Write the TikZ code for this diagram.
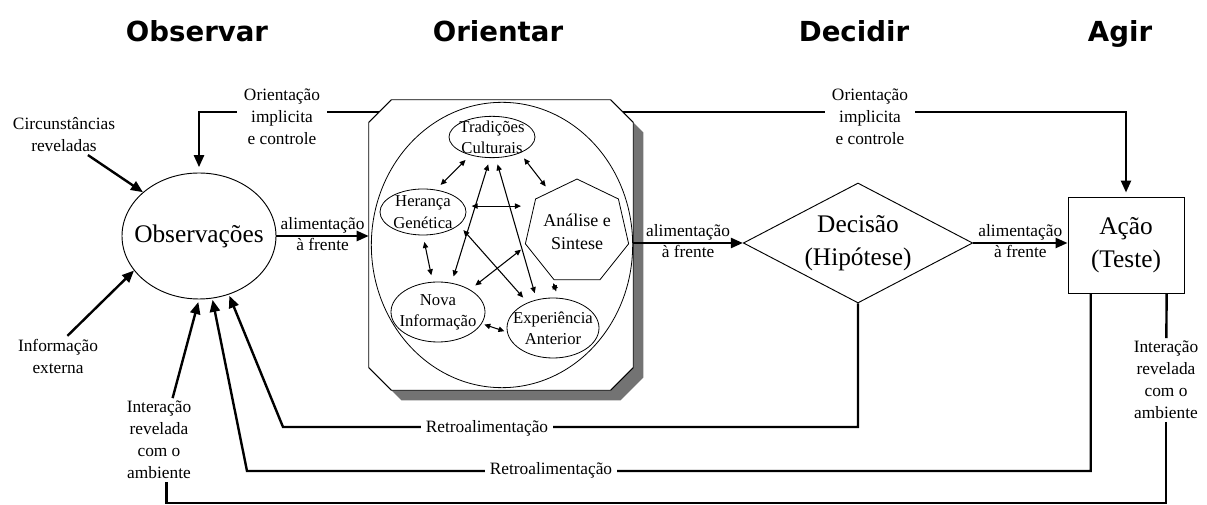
\documentclass[tikz,border=0pt]{standalone}
\usepackage{fontspec}
\setmainfont{Liberation Serif}
\newfontfamily\phasefont{DejaVu Sans}
\usetikzlibrary{shapes.geometric,arrows.meta}
\pgfdeclarelayer{background}
\pgfsetlayers{background,main}
\tikzset{
  phase/.style={font=\phasefont\bfseries\fontsize{20.7}{24}\selectfont, anchor=base},
  txt/.style={align=center, font=\fontsize{13}{16.5}\selectfont, inner sep=2pt},
  big/.style={align=center, font=\fontsize{19}{25}\selectfont},
  sub/.style={ellipse, draw, line width=0.6pt, align=center,
    font=\fontsize{12.5}{16}\selectfont, inner xsep=-6pt, inner ysep=-5pt},
  fb/.style={line width=1.8pt, -{Triangle[length=9pt,width=7.5pt]}},
  fbline/.style={line width=1.8pt},
  link/.style={line width=0.8pt,
    {Triangle[length=4.5pt,width=4pt]}-{Triangle[length=4.5pt,width=4pt]},
    shorten <=5pt, shorten >=5pt},
  oriframe/.style={insert path={
    ([shift={(#1+17pt,-#1)}]ori.north west) -- ([shift={(#1-17pt,-#1)}]ori.north east)
    -- ([shift={(#1,-#1-17pt)}]ori.north east) -- ([shift={(#1,-#1+17pt)}]ori.south east)
    -- ([shift={(#1-17pt,-#1)}]ori.south east) -- ([shift={(#1+17pt,-#1)}]ori.south west)
    -- ([shift={(#1,-#1+17pt)}]ori.south west) -- ([shift={(#1,-#1-17pt)}]ori.north west)
    -- cycle}}
}
\begin{document}
\begin{tikzpicture}[x=0.75pt,y=-0.75pt]
  \useasboundingbox (0,0) rectangle (1207,505);
  \node[phase] (tobs) at (197,42) {Observar};
  \node[phase] (tori) at (498,42) {Orientar};
  \node[phase] (tdec) at (854,42) {Decidir};
  \node[phase] (tagi) at (1120,42) {Agir};

  \node[ellipse, draw, line width=0.7pt, big, inner xsep=-10pt, inner ysep=0pt,
    minimum width=115.5pt, minimum height=94.5pt] (obs) at (199,236) {Observações};
  \node[inner sep=0pt, minimum width=198pt, minimum height=217.5pt] (ori) at (501,245) {};
  \fill[black!55, oriframe=7.5pt];
  \draw[fill=white, line width=0.7pt, oriframe=0pt];
  \node[ellipse, draw, line width=0.6pt, minimum width=196pt, minimum height=214pt]
    (mind) at (502,245) {};
  \node[diamond, draw, line width=0.7pt, big, shape aspect=1.9, inner sep=0pt,
    minimum width=172pt, minimum height=90pt] (dec) at (858,243) {Decisão\\(Hipótese)};
  \node[rectangle, draw, line width=0.7pt, big, inner sep=0pt,
    minimum width=87pt, minimum height=72pt] (acao) at (1126,245) {Ação\\(Teste)};

  \node[sub, minimum width=64.5pt, minimum height=31pt] (trad) at (492,137) {Tradições\\Culturais};
  \node[sub, minimum width=64.5pt, minimum height=34.5pt] (her) at (423,212) {Herança\\Genética};
  \node[regular polygon, regular polygon sides=7, draw, line width=0.6pt, inner sep=0pt,
    minimum size=75pt, align=center, font=\fontsize{13.5}{17}\selectfont]
    (ana) at (577,232) {Análise e\\Sintese};
  \node[sub, minimum width=70.5pt, minimum height=45pt] (nova) at (438,312) {Nova\\Informação};
  \node[sub, minimum width=69pt, minimum height=45pt] (exp) at (553,328) {Experiência\\Anterior};

  \node[txt] (circ) at (64,135) {Circunstâncias\\reveladas};
  \node[txt] (info) at (58,356) {Informação\\externa};
  \node[txt] (intl) at (159,440) {Interação\\revelada\\com o\\ambiente};
  \node[txt] (intr) at (1166,380) {Interação\\revelada\\com o\\ambiente};
  \node[txt, fill=white, inner xsep=5pt] (oril) at (282,117) {Orientação\\implicita\\e controle};
  \node[txt, fill=white, inner xsep=5pt] (orir) at (870,117) {Orientação\\implicita\\e controle};

  \coordinate (orient) at (ori.center |- 0,112);
  \coordinate (reta) at (283,427);
  \coordinate (retb) at (247,471);

  \begin{pgfonlayer}{background}
    \draw[fb, shorten >=4pt] (orient) -| (obs.north);
    \draw[fb, shorten >=3pt] (orient) -| (acao.north);
  \end{pgfonlayer}

  \draw[fb] (circ.-40) -- (obs.142);
  \draw[fb] (info.65) -- (obs.208);
  \draw[fb, shorten >=2pt] (intl.72) -- (obs.south);
  \draw[fb, shorten >=1pt] (dec.south) |- (reta) -- (obs.-63);
  \draw[fb, shorten >=1pt] (acao.-126) |- (retb) -- (obs.-78);
  \draw[fbline] (acao.-50) -- (intr);
  \draw[fbline] (intr) -- (intr.south |- 0,503) -| (intl.-80);
  \node[txt, fill=white, inner xsep=4pt, inner ysep=0pt] (reta lbl) at (487,428) {Retroalimentação};
  \node[txt, fill=white, inner xsep=4pt, inner ysep=0pt] (retb lbl) at (551,470) {Retroalimentação};

  \draw[fb] (obs.east) -- (obs.east -| ori.west)
    node[txt, midway, above, inner sep=1pt] {alimentação}
    node[txt, midway, below, inner sep=1pt] {à frente};
  \draw[fb] (ori.east |- dec.west) -- (dec.west)
    node[txt, midway, above, inner sep=1pt] {alimentação}
    node[txt, midway, below, inner sep=1pt] {à frente};
  \draw[fb] (dec.east) -- (dec.east -| acao.west)
    node[txt, midway, above, inner sep=1pt] {alimentação}
    node[txt, midway, below, inner sep=1pt] {à frente};

  \begin{scope}[link]
    \draw (trad.220) -- (her.60);
    \draw (trad.-30) -- (ana.124);
    \draw (her.8) -- (her.8 -| ana.west);
    \draw (her.south) -- (nova.100);
    \draw (her.-20) -- (exp.135);
    \draw (trad.-95) -- (nova.65);
    \draw (trad.-80) -- (exp.120);
    \draw (ana.195) -- (nova.35);
    \draw (ana.240) -- (exp.80);
    \draw[shorten <=2pt, shorten >=2pt] (nova.-15) -- (exp.185);
  \end{scope}
\end{tikzpicture}
\end{document}
